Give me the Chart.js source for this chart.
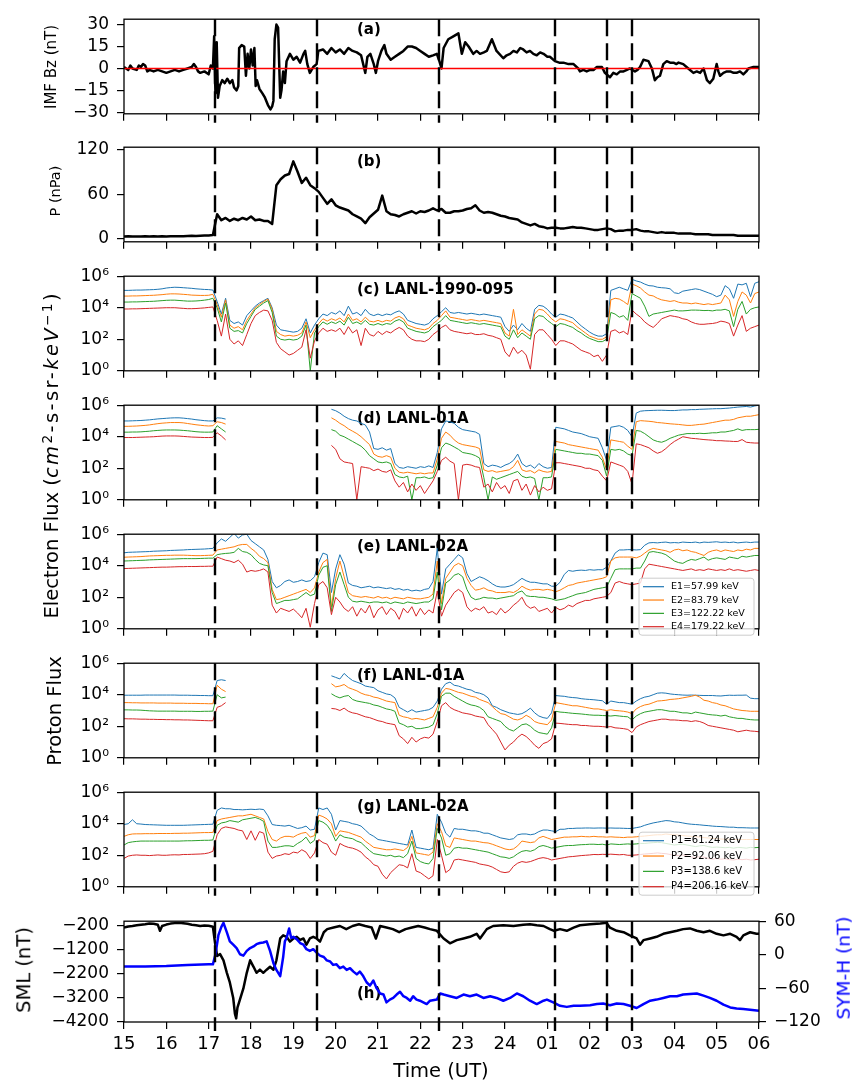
<!DOCTYPE html>
<html>
<head>
<meta charset="utf-8">
<script src="https://cdn.jsdelivr.net/npm/chart.js@4.4.1/dist/chart.umd.min.js"></script>
<style>
  body { margin: 0; background: #fff; }
  #fig { position: relative; width: 860px; height: 1086px; overflow: hidden; font-family: "DejaVu Sans", sans-serif; color: #000; }
  #fig canvas { position: absolute; left: 0; }
  .lbl { position: absolute; white-space: nowrap; line-height: 1; }
  .rot { transform: translate(-50%, -50%) rotate(-90deg); }
  .flat { transform: translate(-50%, -50%); }
  .math { letter-spacing: 2.4px; }
  sup { font-size: 0.7em; vertical-align: 0.45em; line-height: 0; }
</style>
</head>
<body>
<div id="fig"></div>
<script>
const FONT = "DejaVu Sans";

// time axis: hours after 15 UT
const hourTicks = [0, 1, 2, 3, 4, 5, 6, 7, 8, 9, 10, 11, 12, 13, 14, 15];
const hourLabels = ["15", "16", "17", "18", "19", "20", "21", "22", "23", "24", "01", "02", "03", "04", "05", "06"];
const eventHours = [2.15, 4.55, 7.43, 10.17, 11.42, 12.0];
const gridHours = Array.from({ length: 151 }, (_, i) => i / 10);

const fluxTicks = [1, 1e2, 1e4, 1e6];
const fluxTickLabels = ["10\u2070", "10\u00b2", "10\u2074", "10\u2076"];
const electronNames = ["E1=57.99 keV", "E2=83.79 keV", "E3=122.22 keV", "E4=179.22 keV"];
const protonNames = ["P1=61.24 keV", "P2=92.06 keV", "P3=138.6 keV", "P4=206.16 keV"];
const lineColors = ["#1f77b4", "#ff7f0e", "#2ca02c", "#d62728"];

// (a) IMF Bz, nT  [hour, value]
const bzSeries = [[0,1],[0.1,-1],[0.15,2],[0.2,0],[0.3,-1],[0.35,2],[0.4,1],[0.45,3],[0.5,2],[0.55,-2],[0.6,-1],[0.7,-2],[0.8,-1],[0.9,-2],[1.0,-3],[1.1,-2],[1.2,-1],[1.3,-2],[1.4,-1],[1.5,0],[1.6,1],[1.65,3],[1.7,1],[1.75,-2],[1.8,-3],[1.9,-2],[2.0,-4],[2.05,2],[2.1,0],
  [2.13,22],[2.16,-17],[2.19,18],[2.22,-20],[2.26,-12],[2.32,-8],[2.38,-10],[2.44,-7],[2.5,-10],[2.56,-8],[2.6,-13],[2.66,-15],[2.7,-12],[2.72,14],[2.78,16],[2.84,15],[2.88,-5],[2.92,10],[2.96,0],[3.0,13],[3.04,2],[3.08,14],[3.11,-12],[3.14,-8],[3.2,-14],[3.27,-17],[3.33,-20],[3.4,-25],[3.46,-28],[3.5,-26],[3.53,-22],[3.56,20],[3.6,30],[3.64,28],[3.69,-20],[3.72,-15],[3.76,-2],[3.8,-10],[3.84,5],[3.92,10],[4.0,6],[4.08,8],[4.16,4],[4.24,10],[4.28,12],[4.33,3],[4.39,-3],[4.47,1],[4.55,3],
  [4.59,12],[4.7,13],[4.8,10],[4.9,14],[5.0,11],[5.1,13],[5.2,10],[5.3,14],[5.4,12],[5.5,11],[5.6,9],[5.7,-3],[5.75,8],[5.82,10],[5.9,3],[5.95,-3],[6.0,5],[6.08,12],[6.15,16],[6.2,10],[6.3,6],[6.4,8],[6.5,10],[6.6,12],[6.7,15],[6.8,15],[6.9,14],[7.0,12],[7.1,10],[7.2,8],[7.3,9],[7.39,10],[7.45,5],[7.5,0],
  [7.55,14],[7.66,20],[7.78,22],[7.9,24],[7.98,10],[8.06,18],[8.14,15],[8.25,10],[8.33,12],[8.41,10],[8.5,11],[8.57,12],[8.69,20],[8.8,12],[8.96,7],[9.04,9],[9.12,10],[9.2,12],[9.28,11],[9.36,14],[9.43,13],[9.51,11],[9.59,12],[9.67,10],[9.75,9],[9.83,11],[9.91,10],[10.0,8],[10.06,8],[10.18,5],[10.28,4],[10.38,4],[10.5,3],[10.62,3],[10.73,0],[10.77,-2],[10.85,-1],[10.93,-2],[11.01,-1],[11.09,-1],[11.17,1],[11.29,1],[11.36,-3],
  [11.48,-6],[11.56,-3],[11.64,-4],[11.72,-2],[11.8,-2],[11.88,-1],[11.95,0],[12.07,-2],[12.13,-1],[12.19,1],[12.27,6],[12.39,5],[12.47,0],[12.54,-8],[12.6,-6],[12.66,-5],[12.74,3],[12.82,5],[12.9,4],[12.98,4],[13.05,3],[13.1,4],[13.21,3],[13.33,0],[13.45,-3],[13.53,-2],[13.61,-3],[13.69,0],[13.77,-8],[13.84,-10],[13.92,-7],[14.0,3],[14.04,-2],[14.08,-5],[14.16,-3],[14.24,-2],[14.32,-2],[14.4,-3],[14.47,-3],[14.55,-2],[14.63,-4],[14.7,-2],[14.75,0],[14.87,1],[15.0,1]];
const bzZero = 0;

// (b) dynamic pressure, nPa, every 0.1 h
const pressure = [
  3,3.5,3,3.2,3,3.4,3,3.3,3.1,3.4,
  3.2,3.5,3.3,3.6,3.4,3.7,4,3.8,4.1,4.3,
  4.6,5,33,25,28,24,27,25,28,26,
  30,25,26,24,24,20,72,80,85,87,
  104,90,75,82,72,68,63,55,47,53,
  45,42,40,38,33,30,27,21,29,34,
  39,58,37,33,32,30,33,35,37,34,
  37,36,38,41,38,40,35,35,37,37,
  38,40,41,45,38,35,36,35,33,31,
  30,28,27,26,22,20,18,20,17,16,
  14,15,15,14,14,15,16,15,15,14,
  13,12,12,13,14,13,10,11,11,12,
  12,13,11,10,10,9,8,9,8,8,
  8,7,7,7,7,6,6,6,6,5,
  5,5,5,5,5,4,4,4,4,4,
  4];

// (c) LANL-1990-095 electrons, log10 flux, every 0.1 h
const lanl95E1 = [
  5.10,5.10,5.11,5.12,5.12,5.13,5.14,5.15,5.17,5.20,
  5.25,5.28,5.30,5.29,5.27,5.25,5.23,5.20,5.18,5.16,
  5.15,5.12,4.4,3.6,4.6,3.2,3.0,3.1,2.9,3.5,
  3.8,4.1,4.3,4.45,4.6,4.0,2.9,2.6,2.55,2.5,
  2.45,2.5,2.7,3.3,2.4,2.9,3.3,3.6,3.5,3.7,
  3.6,3.8,3.5,4.1,3.6,3.7,3.5,3.9,3.6,3.5,
  3.6,3.5,3.6,3.55,3.7,3.8,3.6,3.2,3.1,3.0,
  2.95,2.9,3.0,3.3,3.5,3.75,4.0,3.7,3.65,3.7,
  3.65,3.6,3.65,3.6,3.55,3.6,3.55,3.5,3.45,3.4,
  2.8,2.5,2.9,2.6,3.0,2.7,2.5,3.9,4.15,4.1,
  3.9,3.6,3.4,3.6,3.55,3.45,3.35,3.1,2.85,2.65,
  2.45,2.3,2.2,2.2,2.35,5.1,5.2,5.3,5.2,5.1,
  5.8,5.7,5.63,5.5,5.4,5.38,5.3,5.27,5.25,5.2,
  4.95,4.9,5.05,5.1,5.15,5.2,5.15,5.05,4.95,4.85,
  4.7,4.8,5.4,5.2,4.6,5.5,5.45,5.55,4.7,5.55,
  5.65];
const lanl95E2 = [
  4.74,4.74,4.75,4.75,4.76,4.77,4.78,4.79,4.81,4.83,
  4.86,4.88,4.88,4.87,4.85,4.83,4.80,4.79,4.78,4.78,
  4.79,4.85,4.2,3.4,4.5,2.9,2.7,2.8,2.6,3.2,
  3.6,4.0,4.2,4.4,4.55,3.9,2.5,2.3,2.2,2.25,
  2.2,2.25,2.4,3.1,2.1,2.6,3.0,3.3,3.15,3.3,
  3.2,3.35,3.1,3.6,3.2,3.3,3.1,3.4,3.15,3.1,
  3.2,3.1,3.2,3.15,3.35,3.45,3.3,2.9,2.8,2.7,
  2.65,2.6,2.7,3.0,3.2,3.5,3.8,3.4,3.35,3.3,
  3.25,3.2,3.25,3.2,3.15,3.2,3.15,3.1,3.05,3.0,
  2.4,2.2,3.9,2.3,2.6,2.4,2.2,3.6,3.9,3.85,
  3.6,3.3,3.1,3.3,3.25,3.15,3.05,2.8,2.6,2.4,
  2.2,2.1,2.0,2.0,2.15,4.5,4.6,4.55,4.4,4.2,
  5.5,5.4,5.25,5.0,4.8,4.75,4.6,4.5,4.45,4.4,
  4.45,4.35,4.3,4.3,4.25,4.3,4.25,4.2,4.25,4.2,
  4.25,4.3,4.8,4.5,3.45,4.4,5.0,4.8,4.3,4.9,
  5.0];
const lanl95E3 = [
  4.36,4.36,4.37,4.37,4.38,4.39,4.40,4.41,4.43,4.45,
  4.47,4.48,4.48,4.46,4.44,4.42,4.42,4.43,4.45,4.48,
  4.52,4.6,4.0,3.1,4.3,2.7,2.5,2.55,2.4,3.0,
  3.45,3.9,4.1,4.3,4.45,3.7,2.2,2.0,1.95,2.0,
  1.95,2.0,2.2,2.9,0.0,2.4,2.8,3.1,2.95,3.1,
  3.0,3.15,2.9,3.4,3.0,3.1,2.95,3.2,2.95,2.9,
  3.0,2.9,3.0,2.95,3.15,3.25,3.1,2.7,2.6,2.5,
  2.45,2.4,2.5,2.8,3.0,3.2,3.5,3.2,3.15,3.1,
  3.05,3.0,3.05,3.0,2.95,3.0,2.95,2.9,2.85,2.8,
  2.2,2.0,2.6,2.1,2.4,2.2,2.0,3.3,3.5,3.45,
  3.2,3.0,2.8,3.0,2.95,2.85,2.75,2.55,2.4,2.2,
  2.05,1.95,1.85,1.85,2.0,3.7,3.6,3.4,3.5,3.2,
  4.9,4.75,4.6,4.1,3.45,3.6,3.65,3.7,3.75,3.8,
  3.85,3.8,3.8,3.82,3.85,3.85,3.84,3.82,3.83,3.8,
  3.85,3.85,3.9,3.8,2.8,3.9,4.4,3.6,3.9,4.0,
  4.05];
const lanl95E4 = [
  3.92,3.92,3.93,3.93,3.94,3.95,3.96,3.97,3.98,3.99,
  4.0,4.0,4.0,3.98,3.96,3.94,3.94,3.95,3.97,3.99,
  4.02,4.05,3.2,2.2,3.6,2.0,1.7,1.9,1.6,2.3,
  3.0,3.5,3.7,3.85,3.8,3.2,1.8,1.4,1.2,1.0,
  1.1,1.3,1.5,2.6,0.8,1.9,2.4,2.7,2.5,2.6,
  2.5,2.7,2.3,2.8,2.4,2.6,1.6,2.7,2.3,2.2,
  2.5,2.3,2.5,2.4,2.6,2.75,2.6,2.2,2.0,1.9,
  1.9,1.85,2.0,2.3,2.5,2.75,2.9,2.6,2.5,2.45,
  2.4,2.35,2.4,2.3,2.3,2.35,2.25,2.2,2.1,2.0,
  1.2,0.9,1.5,1.1,1.3,1.0,0.1,2.3,2.6,2.6,
  2.3,2.0,1.6,1.9,1.9,1.8,1.7,1.5,1.3,1.2,
  1.1,0.9,1.0,0.6,1.0,2.5,2.6,2.4,2.5,2.3,
  3.85,3.6,3.4,3.1,2.9,2.75,3.0,3.3,3.4,3.5,
  3.45,3.4,3.3,3.25,3.1,3.0,2.95,2.95,2.98,3.0,
  3.05,3.15,3.1,3.0,2.2,2.9,3.5,2.5,2.7,2.8,
  2.9];

// (d) LANL-01A electrons
const lanl01E1 = [
  5.00,5.00,5.01,5.02,5.03,5.05,5.07,5.10,5.13,5.15,
  5.17,5.19,5.20,5.20,5.18,5.15,5.12,5.08,5.05,5.02,
  5.0,5.0,5.2,5.18,5.12,null,null,null,null,null,
  null,null,null,null,null,null,null,null,null,null,
  null,null,null,null,null,null,null,null,null,5.74,
  5.65,5.5,5.3,5.15,5.05,5.0,4.85,4.75,4.3,3.25,
  3.2,3.3,3.15,3.25,2.3,2.05,2.0,2.1,2.05,2.0,
  2.1,2.05,2.15,2.05,3.0,4.5,5.0,4.95,4.85,4.6,
  4.45,4.4,4.35,4.3,4.15,2.3,2.1,2.2,2.15,2.05,
  2.2,2.3,2.5,2.9,2.3,2.1,2.2,2.0,2.3,2.1,
  2.0,2.05,4.6,4.55,4.5,4.4,4.3,4.25,4.2,4.1,
  4.0,3.95,3.9,3.3,2.5,4.6,4.65,4.7,4.6,4.4,
  4.0,5.5,5.62,5.65,5.66,5.67,5.68,5.68,5.67,5.66,
  5.66,5.68,5.70,5.70,5.72,5.72,5.74,5.75,5.76,5.77,
  5.78,5.78,5.8,5.82,5.85,5.88,5.9,5.92,5.88,5.95,
  6.0];
const lanl01E2 = [
  4.66,4.66,4.67,4.68,4.70,4.72,4.75,4.79,4.83,4.86,
  4.88,4.9,4.9,4.9,4.88,4.84,4.8,4.76,4.73,4.7,
  4.68,4.7,4.95,4.9,4.8,null,null,null,null,null,
  null,null,null,null,null,null,null,null,null,null,
  null,null,null,null,null,null,null,null,null,5.2,
  5.05,4.85,4.7,4.5,4.35,4.2,4.0,3.75,3.5,2.9,
  2.75,2.7,2.8,2.7,2.0,1.75,1.7,1.75,1.7,1.65,
  1.7,1.65,1.7,1.7,2.6,3.9,4.3,4.1,3.8,3.6,
  3.5,3.45,3.4,3.35,3.25,1.9,1.8,1.85,1.75,1.8,
  1.85,1.9,2.1,2.5,1.9,1.8,1.85,1.7,1.9,1.8,
  1.75,1.8,3.7,3.65,3.6,3.5,3.45,3.4,3.35,3.3,
  3.25,3.2,3.15,2.7,1.9,3.8,3.75,3.7,3.65,3.4,
  3.2,4.95,5.02,5.0,4.98,4.95,4.9,4.88,4.85,4.82,
  4.8,4.78,4.75,4.72,4.72,4.75,4.78,4.8,4.85,4.9,
  4.95,5.0,5.05,5.05,5.1,5.2,5.25,5.3,5.3,5.35,
  5.4];
const lanl01E3 = [
  4.29,4.29,4.30,4.30,4.31,4.33,4.35,4.38,4.4,4.42,
  4.43,4.43,4.43,4.42,4.4,4.38,4.35,4.32,4.3,4.29,
  4.29,4.3,4.7,4.5,4.3,null,null,null,null,null,
  null,null,null,null,null,null,null,null,null,null,
  null,null,null,null,null,null,null,null,null,4.45,
  4.35,4.1,4.0,3.85,3.7,3.55,3.4,3.15,2.8,2.6,
  2.4,2.35,2.4,2.3,1.6,1.45,1.4,1.5,0.0,1.4,
  1.4,1.45,1.35,1.4,2.2,3.3,3.6,3.5,3.35,3.2,
  3.0,2.95,2.9,2.8,2.65,1.4,0.0,1.45,1.3,1.4,
  1.5,1.6,1.7,1.8,1.5,1.4,1.45,1.35,0.0,1.4,
  1.4,1.45,3.2,3.15,3.1,3.05,3.0,2.95,2.95,2.9,
  2.9,2.85,2.8,2.5,1.5,3.2,3.15,3.2,3.1,2.9,
  2.8,4.4,4.35,4.2,4.0,3.8,3.7,3.65,3.75,3.9,
  4.0,4.1,4.15,4.2,4.2,4.2,4.22,4.2,4.22,4.25,
  4.25,4.3,4.3,4.35,4.4,4.5,4.4,4.45,4.45,4.45,
  4.47];
const lanl01E4 = [
  3.95,3.95,3.95,3.96,3.97,3.98,3.99,4.0,4.02,4.04,
  4.05,4.05,4.05,4.04,4.02,4.0,3.98,3.97,3.96,3.95,
  3.95,3.96,4.25,4.05,3.8,null,null,null,null,null,
  null,null,null,null,null,null,null,null,null,null,
  null,null,null,null,null,null,null,null,null,3.45,
  3.2,2.6,2.4,2.35,2.3,0.0,2.1,2.05,2.0,1.85,
  1.95,1.8,1.75,1.9,1.2,0.8,1.1,0.5,1.0,0.6,
  0.9,0.4,0.8,1.2,1.8,2.5,2.7,2.45,2.3,0.0,
  2.2,2.25,2.2,2.1,2.05,0.8,1.0,0.5,1.1,0.7,
  0.9,0.4,1.2,1.3,0.6,1.0,0.3,0.9,0.5,0.8,
  0.6,0.7,2.35,2.35,2.3,2.25,2.2,2.15,2.1,2.0,
  2.0,1.9,1.85,1.5,1.2,2.4,2.3,2.2,2.1,1.8,
  1.0,3.55,3.5,3.4,3.3,3.1,2.95,3.05,3.25,3.5,
  3.7,3.85,4.0,3.95,3.9,3.88,3.85,3.82,3.8,3.78,
  3.75,3.75,3.73,3.72,3.7,3.7,3.82,3.65,3.62,3.6,
  3.6];

// (e) LANL-02A electrons
const lanl02E1 = [
  4.82,4.85,4.86,4.87,4.88,4.89,4.9,4.92,4.93,4.94,
  4.95,4.97,4.98,4.99,5.0,5.02,5.03,5.04,5.05,5.06,
  5.08,5.1,5.45,5.7,5.55,5.8,6.05,5.75,5.95,6.0,
  5.6,5.4,5.2,5.0,4.4,3.0,2.6,2.75,3.0,3.1,
  2.95,3.0,3.1,3.0,3.05,3.3,4.2,4.8,4.7,2.3,
  3.8,4.7,4.1,2.9,2.75,2.7,2.6,2.65,2.7,2.6,
  2.65,2.6,2.55,2.6,2.5,2.55,2.45,2.5,2.4,2.45,
  2.4,2.5,2.55,3.0,5.1,2.2,3.8,4.1,4.4,4.7,
  4.5,3.5,3.0,3.15,3.3,3.2,3.05,2.85,2.7,2.65,
  2.65,2.7,2.8,3.0,3.2,3.05,2.95,2.95,2.9,2.85,
  2.85,2.7,2.7,2.95,3.45,3.7,3.65,3.7,3.72,3.7,
  3.75,3.72,3.75,3.74,3.9,4.3,4.8,5.0,5.0,5.02,
  5.02,5.0,5.02,5.3,5.45,5.47,5.45,5.48,5.5,5.45,
  5.47,5.45,5.5,5.48,5.47,5.5,5.45,5.5,5.48,5.5,
  5.52,5.48,5.5,5.47,5.5,5.45,5.48,5.5,5.47,5.5,
  5.5];
const lanl02E2 = [
  4.54,4.55,4.56,4.57,4.58,4.6,4.62,4.63,4.64,4.65,
  4.66,4.66,4.67,4.67,4.67,4.66,4.65,4.64,4.64,4.65,
  4.66,4.67,5.0,5.05,5.1,5.15,5.2,5.3,5.35,5.35,
  5.1,4.9,4.6,4.45,4.2,2.5,1.85,1.9,2.0,2.1,
  2.2,2.3,2.4,2.5,2.3,2.6,3.6,4.2,4.4,1.4,
  3.2,4.3,3.3,2.3,2.1,2.05,2.0,2.05,2.0,1.95,
  2.05,1.95,2.0,1.9,2.0,1.95,1.9,2.0,1.95,1.9,
  1.9,1.95,2.0,2.2,4.3,1.6,3.2,3.6,4.0,4.15,
  4.0,3.2,2.75,2.45,2.5,2.6,2.45,2.4,2.3,2.3,
  2.3,2.35,2.3,2.45,2.7,2.55,2.45,2.5,2.5,2.45,
  2.5,2.45,2.35,2.45,2.6,2.75,2.8,2.9,2.95,3.0,
  3.05,3.1,3.15,3.2,3.3,4.3,4.5,4.55,4.55,4.55,
  4.55,4.5,4.6,4.8,5.0,5.1,5.05,5.0,4.95,4.85,
  5.0,5.05,4.95,5.0,4.9,4.85,4.75,4.65,4.85,4.95,
  5.0,4.9,5.0,4.95,4.9,5.0,4.95,5.05,5.0,5.1,
  5.1];
const lanl02E3 = [
  4.3,4.31,4.32,4.33,4.34,4.35,4.37,4.38,4.39,4.4,
  4.41,4.42,4.43,4.44,4.45,4.45,4.45,4.45,4.46,4.47,
  4.48,4.48,4.7,4.75,4.78,4.8,4.85,5.1,4.9,4.85,
  4.7,4.4,4.15,4.05,4.0,2.3,1.6,1.7,1.8,1.8,
  1.85,1.9,2.1,2.3,2.1,2.2,3.4,3.9,4.0,1.1,
  2.8,3.6,2.8,2.0,1.75,1.7,1.75,1.7,1.65,1.7,
  1.7,1.65,1.7,1.6,1.7,1.65,1.6,1.7,1.65,1.6,
  1.65,1.7,1.7,1.9,3.6,1.2,2.9,3.1,3.4,3.5,
  3.3,2.5,2.0,1.85,1.9,2.0,1.95,1.95,1.9,1.95,
  2.0,2.05,2.1,2.3,2.4,2.1,2.05,2.05,2.0,2.0,
  1.95,1.9,1.8,1.85,1.9,2.0,2.1,2.2,2.25,2.3,
  2.4,2.5,2.55,2.6,2.65,3.2,3.75,3.8,3.8,3.8,
  3.8,3.85,3.85,4.3,4.85,4.9,4.85,4.8,4.7,4.5,
  4.3,4.2,4.15,4.3,4.4,4.35,4.45,4.55,4.35,4.45,
  4.5,4.45,4.4,4.55,4.5,4.45,4.6,4.55,4.6,4.65,
  4.65];
const lanl02E4 = [
  3.82,3.83,3.84,3.85,3.86,3.87,3.88,3.89,3.9,3.91,
  3.91,3.92,3.93,3.94,3.94,3.95,3.95,3.95,3.96,3.96,
  3.97,3.97,4.55,4.45,4.35,4.3,4.2,4.35,4.1,3.6,
  3.7,3.65,3.7,3.8,3.6,1.5,1.0,1.3,1.2,1.1,
  1.25,1.0,0.7,1.3,0.1,1.6,2.8,3.0,2.6,0.9,
  2.0,1.7,1.3,1.1,1.4,0.8,1.3,1.0,1.5,0.7,
  1.2,1.4,0.9,1.3,1.1,0.6,1.3,1.0,1.4,0.8,
  1.3,0.9,1.2,1.0,2.4,0.8,1.5,1.9,2.3,2.5,
  2.3,1.4,1.1,1.3,1.2,1.4,1.0,1.1,0.9,1.3,
  1.0,1.2,1.5,1.7,2.0,1.5,1.3,1.4,1.1,1.2,
  1.3,1.0,1.35,1.2,1.3,1.5,1.4,1.6,1.7,1.8,
  1.8,1.9,1.95,2.0,2.05,2.3,2.9,3.0,2.9,2.85,
  2.8,2.85,2.9,3.8,4.1,4.05,4.0,3.95,3.9,3.85,
  3.8,3.75,3.7,3.75,3.8,3.7,3.75,3.7,3.8,3.75,
  3.7,3.75,3.7,3.8,3.7,3.75,3.7,3.65,3.7,3.75,
  3.7];

// (f) LANL-01A protons
const lanl01P1 = [
  3.97,3.97,3.97,3.97,3.97,3.98,3.98,3.98,3.98,3.98,
  3.98,3.98,3.98,3.97,3.97,3.97,3.96,3.96,3.95,3.95,
  3.94,3.94,4.9,4.95,4.9,null,null,null,null,null,
  null,null,null,null,null,null,null,null,null,null,
  null,null,null,null,null,null,null,null,null,5.2,
  5.1,5.0,5.35,5.1,4.9,4.8,4.7,4.55,4.5,4.45,
  4.25,4.15,4.05,4.0,3.8,3.2,3.05,2.9,3.05,2.9,
  2.95,3.0,3.05,3.2,3.6,4.35,4.7,4.8,4.6,4.55,
  4.45,4.35,4.3,4.15,4.1,4.0,3.8,3.3,3.2,3.05,
  2.95,2.85,2.8,2.75,2.8,2.95,3.15,2.85,2.65,2.55,
  2.5,2.85,3.95,3.92,3.9,3.85,3.82,3.8,3.75,3.72,
  3.7,3.68,3.65,3.62,3.4,3.6,3.55,3.5,3.5,3.45,
  3.4,3.6,3.75,3.85,3.9,4.0,4.1,4.12,4.1,4.05,
  4.02,4.0,3.98,3.97,3.98,3.97,3.96,3.95,3.95,3.95,
  3.93,3.92,3.95,3.97,3.96,3.97,3.97,3.98,3.78,3.75,
  3.75];
const lanl01P2 = [
  3.5,3.5,3.49,3.49,3.48,3.48,3.48,3.48,3.47,3.47,
  3.47,3.47,3.46,3.46,3.46,3.45,3.45,3.45,3.44,3.44,
  3.43,3.43,4.6,4.35,4.2,null,null,null,null,null,
  null,null,null,null,null,null,null,null,null,null,
  null,null,null,null,null,null,null,null,null,4.7,
  4.5,4.55,4.65,4.45,4.35,4.25,4.1,4.0,3.95,3.85,
  3.8,3.7,3.6,3.55,3.5,2.7,2.6,2.55,2.45,2.5,
  2.45,2.4,2.5,2.6,3.2,4.1,4.4,4.35,4.25,4.15,
  4.1,4.0,3.9,3.85,3.7,3.6,3.5,3.25,3.0,2.8,
  2.75,2.6,2.45,2.4,2.5,2.7,2.55,2.3,2.2,2.15,
  2.1,2.4,3.5,3.45,3.4,3.35,3.3,3.3,3.25,3.2,
  3.15,3.1,3.1,3.05,3.0,3.05,3.0,2.98,2.95,2.9,
  2.8,3.1,3.25,3.35,3.4,3.5,3.6,3.62,3.65,3.7,
  3.72,3.75,3.8,3.85,3.9,3.97,3.85,3.65,3.6,3.5,
  3.45,3.35,3.3,3.2,3.1,3.05,3.0,2.98,2.95,2.95,
  2.95];
const lanl01P3 = [
  3.04,3.04,3.03,3.03,3.02,3.0,2.98,2.97,2.96,2.96,
  2.96,2.96,2.96,2.95,2.95,2.95,2.95,2.94,2.94,2.95,
  2.95,2.96,4.0,3.8,3.85,null,null,null,null,null,
  null,null,null,null,null,null,null,null,null,null,
  null,null,null,null,null,null,null,null,null,4.06,
  3.9,3.8,3.9,3.95,3.7,3.6,3.55,3.5,3.45,3.35,
  3.3,3.2,3.1,3.05,2.95,2.2,2.1,1.95,2.0,1.85,
  1.85,1.9,1.95,2.1,2.8,3.9,4.1,4.1,3.9,3.75,
  3.6,3.45,3.35,3.3,3.2,3.0,2.6,2.5,2.4,2.3,
  2.0,1.8,1.7,1.9,2.1,2.15,2.0,1.75,1.6,1.55,
  1.5,1.9,2.95,2.9,2.88,2.85,2.82,2.8,2.78,2.75,
  2.72,2.7,2.7,2.68,2.67,2.65,2.68,2.65,2.62,2.6,
  2.4,2.65,2.8,2.9,2.95,3.0,3.05,3.05,3.0,2.95,
  2.95,2.9,2.85,2.85,2.8,2.9,2.85,2.8,2.75,2.72,
  2.7,2.65,2.7,2.6,2.55,2.5,2.5,2.45,2.42,2.4,
  2.4];
const lanl01P4 = [
  2.48,2.47,2.47,2.46,2.45,2.45,2.44,2.44,2.43,2.43,
  2.42,2.42,2.41,2.41,2.40,2.40,2.39,2.38,2.37,2.36,
  2.35,2.35,3.2,3.3,3.5,null,null,null,null,null,
  null,null,null,null,null,null,null,null,null,null,
  null,null,null,null,null,null,null,null,null,3.13,
  3.1,3.0,3.15,2.95,2.85,2.8,2.7,2.6,2.55,2.45,
  2.35,2.3,2.2,2.15,2.1,1.4,1.2,0.9,1.3,1.0,
  1.2,1.3,1.25,1.5,2.3,3.3,3.5,3.2,3.05,2.95,
  2.85,2.8,2.75,2.65,2.6,2.55,2.1,1.8,1.5,1.0,
  0.5,0.8,1.0,1.3,1.5,1.35,1.1,0.8,0.6,0.9,
  1.0,1.2,2.2,2.18,2.15,2.12,2.1,2.1,2.05,2.05,
  2.02,2.0,2.0,1.98,1.95,1.98,1.9,1.88,1.85,1.8,
  1.6,1.95,2.1,2.2,2.3,2.35,2.4,2.45,2.45,2.4,
  2.4,2.38,2.35,2.35,2.3,2.35,2.3,2.2,2.05,2.0,
  1.95,1.9,1.85,1.8,1.75,1.65,1.7,1.75,1.7,1.68,
  1.65];

// (g) LANL-02A protons
const lanl02P1 = [
  3.95,4.0,4.25,4.0,3.98,3.95,3.94,3.93,3.92,3.91,
  3.9,3.9,3.9,3.9,3.9,3.91,3.92,3.93,3.94,3.95,
  3.96,3.97,4.85,5.0,4.95,4.95,4.9,4.9,4.88,4.9,
  4.92,4.9,4.93,4.9,4.5,3.95,3.9,3.88,3.85,3.9,
  3.8,3.7,3.75,3.85,3.6,3.65,5.0,4.9,5.0,4.6,
  3.6,4.2,4.15,4.1,4.0,3.95,3.85,3.6,3.35,3.2,
  3.0,2.95,2.9,2.85,2.8,2.75,2.7,2.65,3.6,2.5,
  2.45,2.4,2.35,2.45,4.6,4.1,3.4,3.15,3.7,3.65,
  3.65,3.6,3.55,3.55,3.5,3.4,3.4,3.3,3.2,3.1,
  3.05,3.0,3.05,3.3,3.35,3.35,3.3,3.35,3.5,3.6,
  3.6,3.55,3.5,3.65,3.65,3.7,3.7,3.72,3.72,3.73,
  3.73,3.72,3.73,3.73,3.72,3.73,3.72,3.72,3.71,3.7,
  3.7,3.75,3.8,3.9,3.98,4.05,4.1,4.15,4.2,4.18,
  4.12,4.1,4.05,4.0,3.97,3.95,3.93,3.9,3.88,3.85,
  3.83,3.82,3.8,3.78,3.78,3.75,3.75,3.74,3.73,3.73,
  3.73];
const lanl02P2 = [
  3.2,3.3,3.35,3.36,3.36,3.37,3.37,3.37,3.38,3.38,
  3.38,3.38,3.39,3.39,3.4,3.4,3.41,3.42,3.43,3.44,
  3.44,3.45,4.2,4.3,4.35,4.4,4.45,4.5,4.5,4.55,
  4.6,4.5,4.4,4.3,3.5,3.0,2.9,3.1,3.2,3.2,
  3.15,3.3,3.4,3.45,3.15,3.25,4.55,4.45,4.3,4.0,
  3.2,3.55,3.5,3.45,3.35,3.25,3.15,2.9,2.7,2.5,
  2.45,2.4,2.35,2.35,2.4,2.35,2.3,2.5,3.2,2.15,
  2.1,2.05,2.0,2.2,4.0,3.5,2.6,2.5,3.1,3.05,
  3.0,2.95,2.9,2.9,2.85,2.8,2.78,2.7,2.6,2.5,
  2.4,2.35,2.4,2.6,2.9,2.85,2.8,2.85,3.1,3.2,
  3.1,3.0,3.05,3.1,3.15,3.15,3.17,3.17,3.2,3.18,
  3.17,3.2,3.17,3.17,3.15,3.17,3.15,3.14,3.12,3.15,
  3.15,3.17,3.2,3.22,3.25,3.28,3.3,3.3,3.35,3.32,
  3.3,3.28,3.25,3.22,3.2,3.18,3.15,3.12,3.1,3.08,
  3.05,3.03,3.02,3.02,3.0,3.0,3.0,3.0,3.0,3.0,
  3.0];
const lanl02P3 = [
  2.65,2.8,2.85,2.88,2.9,2.9,2.9,2.9,2.9,2.9,
  2.9,2.9,2.9,2.9,2.91,2.92,2.92,2.93,2.94,2.95,
  2.95,2.97,3.9,4.05,4.1,4.2,4.15,4.1,4.25,4.3,
  4.35,4.4,4.3,4.15,2.9,2.5,2.5,2.55,2.6,2.6,
  2.55,2.75,2.9,3.15,2.75,2.95,4.2,4.1,3.9,3.5,
  2.9,3.3,3.15,3.1,3.05,2.9,2.8,2.55,2.3,2.1,
  2.05,2.0,1.95,2.0,1.9,1.95,1.85,2.1,2.9,1.8,
  1.6,1.5,1.45,1.8,3.7,3.1,2.0,2.1,2.45,2.5,
  2.45,2.45,2.4,2.35,2.3,2.25,2.2,2.1,2.0,1.9,
  1.87,1.8,1.9,2.1,2.25,2.3,2.25,2.35,2.55,2.62,
  2.55,2.45,2.5,2.55,2.6,2.62,2.62,2.65,2.67,2.68,
  2.7,2.7,2.68,2.7,2.65,2.72,2.7,2.68,2.7,2.72,
  2.7,2.72,2.75,2.75,2.78,2.8,2.82,2.8,2.75,2.7,
  2.65,2.68,2.7,2.65,2.6,2.55,2.6,2.62,2.55,2.5,
  2.52,2.5,2.48,2.5,2.45,2.5,2.48,2.45,2.5,2.48,
  2.5];
const lanl02P4 = [
  1.8,1.95,2.0,2.02,2.0,2.0,1.98,2.0,2.02,2.0,
  2.0,2.02,2.03,2.02,2.05,2.05,2.06,2.07,2.08,2.1,
  2.15,2.25,3.3,3.7,3.8,3.75,3.7,3.6,3.55,3.0,
  3.55,2.95,3.5,3.4,2.2,1.8,1.95,2.0,2.1,2.05,
  2.2,2.15,2.35,2.2,1.8,2.15,3.0,2.8,2.7,2.2,
  2.0,2.75,2.6,2.5,2.45,2.35,2.2,1.9,1.7,1.4,
  1.3,0.8,0.5,0.9,1.15,1.4,1.35,1.2,2.1,1.0,
  0.9,0.7,0.5,0.7,3.0,2.0,0.9,1.1,1.7,1.75,
  1.7,1.65,1.6,1.55,1.45,1.4,1.35,1.25,1.1,0.95,
  0.9,0.95,1.3,1.5,1.6,1.55,1.6,1.7,1.8,1.85,
  1.8,1.7,1.75,1.8,1.85,1.9,1.92,1.95,1.98,2.0,
  2.02,2.05,2.04,2.06,2.05,2.07,2.05,2.03,2.05,2.0,
  2.0,2.02,2.05,2.08,2.1,2.12,2.15,2.12,2.1,2.05,
  2.0,1.98,2.02,1.95,1.9,1.85,1.92,1.88,1.8,1.75,
  1.8,1.75,1.78,1.72,1.7,1.75,1.72,1.75,1.7,1.72,
  1.75];

// (h) SML and SYM-H, nT  [hour, value]
const smlSeries = [[0,-260],[0.1,-220],[0.2,-200],[0.3,-170],[0.4,-150],[0.5,-130],[0.6,-100],[0.7,-110],[0.8,-150],[0.85,-400],[0.9,-200],[1.0,-140],[1.1,-100],[1.2,-80],[1.3,-70],[1.4,-90],[1.5,-110],[1.6,-150],[1.7,-170],[1.8,-200],[1.9,-180],[2.0,-190],[2.1,-230],
  [2.15,-900],[2.2,-1450],[2.27,-1370],[2.35,-1630],[2.43,-2150],[2.5,-2550],[2.58,-3200],[2.62,-3850],[2.65,-4050],[2.68,-3600],[2.74,-3260],[2.82,-2800],[2.9,-2150],[2.98,-1630],[3.06,-1900],[3.13,-2150],[3.21,-2020],[3.29,-2150],[3.37,-2020],[3.45,-1900],[3.53,-2020],[3.6,-1630],[3.69,-720],[3.76,-590],[3.84,-650],[3.92,-850],[4.0,-720],[4.08,-650],[4.16,-780],[4.24,-720],[4.31,-980],[4.39,-720],[4.47,-650],[4.55,-720],
  [4.63,-850],[4.72,-460],[4.8,-330],[4.95,-260],[5.1,-200],[5.25,-330],[5.4,-200],[5.55,-130],[5.7,-200],[5.85,-260],[5.95,-720],[6.05,-200],[6.2,-260],[6.35,-330],[6.5,-460],[6.65,-330],[6.8,-260],[6.95,-200],[7.1,-260],[7.23,-330],[7.39,-400],[7.55,-720],[7.7,-920],[7.86,-790],[8.02,-720],[8.17,-650],[8.33,-525],[8.41,-720],[8.57,-330],[8.72,-200],[8.96,-170],[9.2,-200],[9.43,-150],[9.59,-130],[9.75,-170],[9.91,-200],[10.06,-330],
  [10.16,-400],[10.3,-330],[10.46,-400],[10.62,-270],[10.77,-170],[11.01,-130],[11.25,-100],[11.4,-70],[11.48,-270],[11.64,-400],[11.8,-460],[11.95,-590],[12.11,-720],[12.19,-980],[12.27,-790],[12.43,-720],[12.58,-650],[12.74,-525],[12.9,-460],[13.06,-400],[13.21,-330],[13.37,-300],[13.53,-400],[13.69,-460],[13.84,-400],[14.0,-525],[14.16,-590],[14.32,-525],[14.47,-650],[14.55,-790],[14.63,-590],[14.79,-460],[14.94,-525],[15.0,-525]];
const symhSeries = [[0,-21],[0.5,-21],[1.0,-20],[1.5,-18],[2.0,-17],[2.1,-17],[2.16,1],[2.23,35],[2.3,50],[2.35,57],[2.43,40],[2.5,24],[2.58,18],[2.66,12],[2.74,1],[2.82,-1.5],[2.9,7],[2.98,12],[3.06,15],[3.13,19],[3.21,21],[3.29,22],[3.37,24],[3.45,7],[3.53,-15],[3.6,-27],[3.69,-38],[3.76,-4],[3.8,24],[3.84,30],[3.9,47],[3.95,30],[4.0,32],[4.08,28],[4.16,21],[4.24,18],[4.31,10],[4.39,7],[4.47,10],[4.55,4],
  [4.63,-1.5],[4.72,-4],[4.79,-10],[4.87,-12],[4.94,-18],[5.02,-17],[5.1,-24],[5.18,-21],[5.26,-27],[5.34,-24],[5.42,-30],[5.5,-35],[5.57,-30],[5.65,-38],[5.73,-49],[5.81,-55],[5.89,-46],[5.97,-60],[6.05,-69],[6.13,-71],[6.2,-85],[6.28,-80],[6.36,-77],[6.44,-71],[6.52,-66],[6.6,-74],[6.68,-77],[6.76,-82],[6.83,-74],[6.91,-80],[6.99,-82],[7.07,-85],[7.15,-88],[7.23,-82],[7.39,-80],[7.47,-69],[7.55,-71],[7.7,-74],[7.86,-77],[8.02,-71],[8.17,-74],[8.33,-71],[8.49,-77],[8.65,-74],[8.8,-77],[8.96,-82],[9.12,-77],[9.28,-69],[9.43,-74],[9.59,-82],[9.75,-88],[9.91,-82],[9.99,-80],
  [10.14,-85],[10.3,-91],[10.46,-93],[10.62,-91],[10.77,-91],[11.01,-90],[11.17,-88],[11.32,-87],[11.48,-90],[11.64,-87],[11.8,-88],[11.95,-91],[12.11,-95],[12.27,-88],[12.43,-82],[12.58,-80],[12.74,-77],[12.9,-74],[13.06,-74],[13.21,-71],[13.37,-70],[13.53,-69],[13.69,-73],[13.84,-77],[14.0,-82],[14.16,-89],[14.32,-94],[14.47,-96],[14.63,-97],[14.79,-98],[15.0,-100]];

const panelTops = [13, 141, 270, 399, 528, 657, 786, 915];
const plotHeight = 107;
const fig = document.getElementById("fig");

const minusSign = (v) => String(v).replace("-", "\u2212");

const decoPlugin = {
  id: "deco",
  beforeDatasetsDraw(chart, args, opts) {
    const { ctx, chartArea: a } = chart;
    ctx.save();
    ctx.font = `bold 15px "${FONT}"`;
    ctx.fillStyle = "#000";
    ctx.textBaseline = "middle";
    ctx.fillText(opts.label, 357, a.top + opts.labelDy);
    ctx.restore();
  },
  afterDatasetsDraw(chart, args, opts) {
    const { ctx, chartArea: a, scales } = chart;
    ctx.save();
    ctx.strokeStyle = "#000";
    ctx.lineWidth = 2.4;
    ctx.setLineDash([17, 7]);
    eventHours.forEach((h) => {
      const px = Math.round(scales.x.getPixelForValue(h));
      ctx.beginPath();
      ctx.moveTo(px, a.top);
      ctx.lineTo(px, a.bottom + 9);
      ctx.stroke();
    });
    ctx.setLineDash([]);
    ctx.lineWidth = 1.3;
    ctx.strokeRect(a.left, a.top, a.right - a.left, a.bottom - a.top);

    if (opts.names) {
      const bx = 639, bw = 115;
      const by = a.top + opts.boxTop, bh = opts.boxHeight;
      ctx.fillStyle = "rgba(255,255,255,0.8)";
      ctx.strokeStyle = "#cccccc";
      ctx.lineWidth = 1;
      ctx.beginPath();
      ctx.roundRect(bx, by, bw, bh, 3);
      ctx.fill();
      ctx.stroke();
      ctx.font = `${opts.fontSize}px "${FONT}"`;
      ctx.textBaseline = "middle";
      const step = (bh - 17) / 3;
      opts.names.forEach((name, i) => {
        const y = by + 8.5 + i * step;
        ctx.strokeStyle = lineColors[i];
        ctx.lineWidth = 1.2;
        ctx.beginPath();
        ctx.moveTo(bx + 4, y);
        ctx.lineTo(bx + 25, y);
        ctx.stroke();
        ctx.fillStyle = "#000";
        ctx.fillText(name, bx + 32, y);
      });
    }
    ctx.restore();
  }
};

const tickGrid = { drawOnChartArea: false, color: "#000", lineWidth: 1.2, tickLength: 7 };

const xScale = (showLabels, height) => ({
  type: "linear", min: 0, max: 15, position: "bottom",
  afterBuildTicks: (s) => { s.ticks = hourTicks.map((v) => ({ value: v })); },
  afterFit: (s) => { s.height = height; },
  grid: tickGrid,
  border: { display: false },
  ticks: { display: showLabels, autoSkip: false, maxRotation: 0, padding: 5, color: "#000",
    font: { family: FONT, size: 18 }, callback: (v, i) => hourLabels[i] }
});

const valueScale = (min, max, ticks, position, width) => ({
  type: "linear", min, max, position,
  afterBuildTicks: (s) => { s.ticks = ticks.map((v) => ({ value: v })); },
  afterFit: (s) => { s.width = width; },
  grid: tickGrid,
  border: { display: false },
  ticks: { padding: 8, color: "#000", font: { family: FONT, size: 17 }, callback: (v) => minusSign(v) }
});

const fluxScale = () => ({
  type: "logarithmic", min: 1, max: 1e6, position: "left",
  afterBuildTicks: (s) => { s.ticks = fluxTicks.map((v) => ({ value: v })); },
  afterFit: (s) => { s.width = 124; },
  grid: tickGrid,
  border: { display: false },
  ticks: { padding: 8, color: "#000", font: { family: FONT, size: 17 },
    callback: (v) => fluxTickLabels[fluxTicks.indexOf(v)] }
});

const pairLine = (series, color, width, order, axis) => ({
  data: series.map(([h, v]) => ({ x: h, y: v })),
  borderColor: color, borderWidth: width, order, yAxisID: axis || "y"
});

const gridLine = (values, color, width, order) => ({
  data: gridHours.map((h, i) => ({ x: h, y: values[i] })),
  borderColor: color, borderWidth: width, order
});

const fluxSets = (channels) => channels.map((vals, i) => ({
  data: gridHours.map((h, k) => ({ x: h, y: vals[k] === null ? null : Math.pow(10, vals[k]) })),
  borderColor: lineColors[i], borderWidth: 1, order: 3 - i, spanGaps: false
}));

const makeChart = (index, datasets, scales, deco, xHeight, rightPad) => {
  const canvas = document.createElement("canvas");
  canvas.width = 860;
  canvas.height = 12 + plotHeight + xHeight;
  canvas.style.top = (panelTops[index] - 12) + "px";
  fig.appendChild(canvas);
  return new Chart(canvas, {
    type: "line",
    data: { datasets },
    options: {
      responsive: false, animation: false, devicePixelRatio: 1, events: [],
      layout: { padding: { top: 12, left: 0, right: rightPad, bottom: 0 } },
      scales,
      elements: { point: { radius: 0 }, line: { tension: 0, borderJoinStyle: "round" } },
      plugins: { legend: { display: false }, tooltip: { enabled: false }, deco }
    },
    plugins: [decoPlugin]
  });
};

// (a)
makeChart(0, [
  pairLine(bzSeries, "#000", 2.5, 1),
  { data: [{ x: hourTicks[0], y: bzZero }, { x: hourTicks[hourTicks.length - 1], y: bzZero }], borderColor: "#ff0000", borderWidth: 1.5, order: 0 }
], { x: xScale(false, 12), y: valueScale(-31, 33.7, [-30, -15, 0, 15, 30], "left", 124) },
  { label: "(a)", labelDy: 10.5 }, 12, 101);

// (b)
makeChart(1, [gridLine(pressure, "#000", 2.5, 0)],
  { x: xScale(false, 12), y: valueScale(-4, 123, [0, 60, 120], "left", 124) },
  { label: "(b)", labelDy: 14.5 }, 12, 101);

// (c)-(g)
makeChart(2, fluxSets([lanl95E1, lanl95E2, lanl95E3, lanl95E4]),
  { x: xScale(false, 12), y: fluxScale() }, { label: "(c) LANL-1990-095", labelDy: 13.5 }, 12, 101);
makeChart(3, fluxSets([lanl01E1, lanl01E2, lanl01E3, lanl01E4]),
  { x: xScale(false, 12), y: fluxScale() }, { label: "(d) LANL-01A", labelDy: 13.5 }, 12, 101);
makeChart(4, fluxSets([lanl02E1, lanl02E2, lanl02E3, lanl02E4]),
  { x: xScale(false, 12), y: fluxScale() },
  { label: "(e) LANL-02A", labelDy: 13, names: electronNames, boxTop: 44, boxHeight: 57, fontSize: 9.5 }, 12, 101);
makeChart(5, fluxSets([lanl01P1, lanl01P2, lanl01P3, lanl01P4]),
  { x: xScale(false, 12), y: fluxScale() }, { label: "(f) LANL-01A", labelDy: 13 }, 12, 101);
makeChart(6, fluxSets([lanl02P1, lanl02P2, lanl02P3, lanl02P4]),
  { x: xScale(false, 12), y: fluxScale() },
  { label: "(g) LANL-02A", labelDy: 15, names: protonNames, boxTop: 40, boxHeight: 63, fontSize: 10 }, 12, 101);

// (h)
makeChart(7, [
  pairLine(smlSeries, "#000", 2.5, 1, "y"),
  pairLine(symhSeries, "#0000ff", 2.5, 0, "y2")
], {
  x: xScale(true, 64),
  y: valueScale(-4200, 0, [-4200, -3200, -2200, -1200, -200], "left", 124),
  y2: valueScale(-120, 60, [-120, -60, 0, 60], "right", 101)
}, { label: "(h)", labelDy: 73 }, 64, 0);

// axis titles
const addLabel = (html, x, y, size, cls, color) => {
  const el = document.createElement("div");
  el.className = "lbl " + cls;
  el.innerHTML = html;
  el.style.left = x + "px";
  el.style.top = y + "px";
  el.style.fontSize = size + "px";
  if (color) el.style.color = color;
  fig.appendChild(el);
};
addLabel("IMF Bz (nT)", 51, 66.5, 15, "rot");
addLabel("P (nPa)", 55, 191, 14.5, "rot");
addLabel("Electron Flux (<span class=\"math\"><i>cm</i><sup>2</sup>-s-sr-<i>keV</i><sup>\u22121</sup></span>)", 52, 456, 19.5, "rot");
addLabel("Proton Flux", 55, 711, 19.5, "rot");
addLabel("SML (nT)", 23.5, 970, 19.5, "rot");
addLabel("SYM-H (nT)", 844, 968, 18.5, "rot", "#0000ff");
addLabel("Time (UT)", 441, 1071, 19.5, "flat");
</script>
</body>
</html>
